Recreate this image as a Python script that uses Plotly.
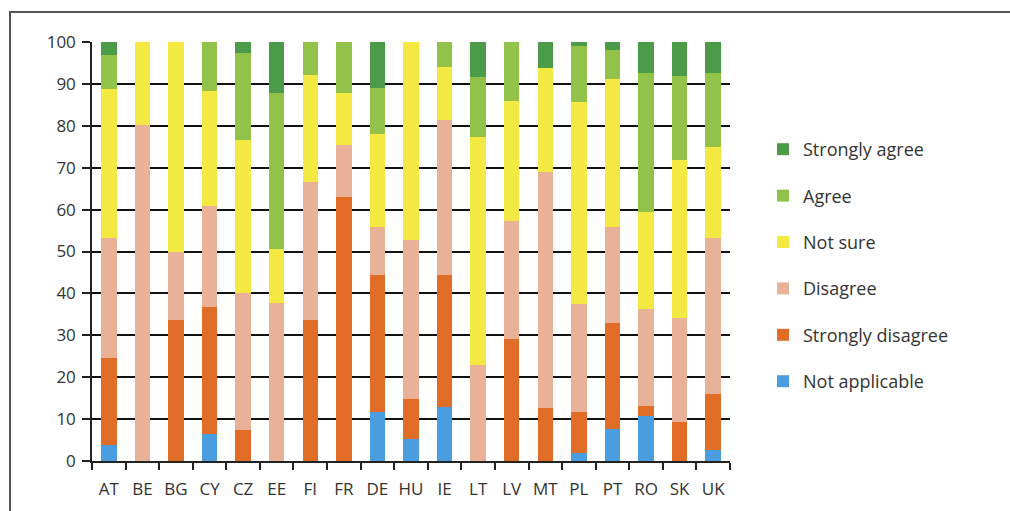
import plotly.graph_objects as go

countries = ["AT", "BE", "BG", "CY", "CZ", "EE", "FI", "FR", "DE", "HU",
             "IE", "LT", "LV", "MT", "PL", "PT", "RO", "SK", "UK"]

# Share of responses per country (%), stacked from the bottom up
not_applicable    = [3.8, 0, 0, 6.4, 0, 0, 0, 0, 11.7, 5.2, 12.8, 0, 0, 0, 1.8, 7.7, 10.8, 0, 2.6]
strongly_disagree = [20.8, 0, 33.6, 30.3, 7.4, 0, 33.6, 62.9, 32.8, 9.6, 31.5, 0, 29.1, 12.6, 10.0, 25.3, 2.4, 9.2, 13.4]
disagree          = [28.6, 80.2, 16.3, 24.2, 32.6, 37.7, 32.9, 12.4, 11.4, 38.0, 37.1, 23.0, 28.2, 56.3, 25.6, 22.9, 23.1, 25.0, 37.2]
not_sure          = [35.6, 19.8, 50.1, 27.5, 36.7, 12.8, 25.7, 12.5, 22.2, 47.2, 12.6, 54.4, 28.7, 25.0, 48.2, 35.2, 23.2, 37.6, 21.7]
agree             = [8.2, 0, 0, 11.6, 20.7, 37.3, 7.8, 12.2, 11.0, 0, 6.0, 14.2, 14.0, 0, 13.4, 6.9, 33.1, 20.1, 17.7]
strongly_agree    = [3.0, 0, 0, 0, 2.6, 12.2, 0, 0, 10.9, 0, 0, 8.4, 0, 6.1, 1.0, 2.0, 7.4, 8.1, 7.4]

series = [
    ("Not applicable", not_applicable, "#4a9ee0"),
    ("Strongly disagree", strongly_disagree, "#e06c26"),
    ("Disagree", disagree, "#e9b198"),
    ("Not sure", not_sure, "#f4e842"),
    ("Agree", agree, "#92c24a"),
    ("Strongly agree", strongly_agree, "#4c9b49"),
]

fig = go.Figure()
for i, (name, vals, color) in enumerate(series):
    fig.add_trace(go.Bar(
        x=countries, y=vals, name=name, legendgroup=name,
        legendrank=len(series) - i,
        marker=dict(color=color, line=dict(width=0)),
    ))

# plot area geometry in pixels (used for the surrounding frame)
L, R, T, B = 92, 730, 42, 461
W, H = R - L, B - T

def px(x):
    return (x - L) / W

def py(y):
    return (B - y) / H

fig.add_shape(type="path", xref="paper", yref="paper",
              path=f"M {px(10)} {py(520)} L {px(10)} {py(12)} L {px(1020)} {py(12)}",
              line=dict(color="#555555", width=2))

fig.update_layout(
    width=1010, height=511,
    margin=dict(l=L, r=1010 - R, t=T, b=511 - B, autoexpand=False),
    barmode="stack", bargap=0.54,
    paper_bgcolor="white", plot_bgcolor="white",
    font=dict(family="Open Sans", color="#333333", size=17),
    showlegend=True,
    legend=dict(
        x=px(763), xanchor="left", y=py(131), yanchor="top",
        traceorder="grouped", tracegroupgap=20,
        font=dict(size=18, color="#333333"),
        bgcolor="rgba(0,0,0,0)",
    ),
    xaxis=dict(
        showline=True, linecolor="#222222", linewidth=1.5,
        ticks="outside", tickson="boundaries", ticklen=7, tickwidth=1.5, tickcolor="#222222",
        tickfont=dict(size=17, color="#333333"),
        tickangle=0, automargin=False,
        ticklabelstandoff=12,
        showgrid=False,
    ),
    yaxis=dict(
        range=[0, 100], dtick=10,
        showline=True, linecolor="#222222", linewidth=1.5,
        ticks="outside", ticklen=8, tickwidth=1.5, tickcolor="#222222",
        showgrid=True, gridcolor="#111111", gridwidth=1.5,
        zeroline=False, automargin=False,
        ticklabelstandoff=3,
        tickfont=dict(size=17, color="#333333"),
    ),
)

fig.write_html("out.html")
